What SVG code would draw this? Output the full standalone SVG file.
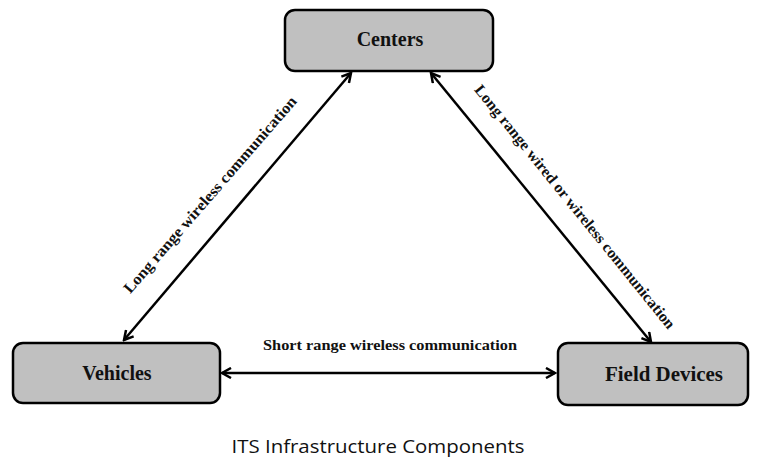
<svg xmlns="http://www.w3.org/2000/svg" width="758" height="459" viewBox="0 0 758 459">
<style>
.box{fill:#c0c0c0;stroke:#000;stroke-width:2.5}
.lbl{font-family:"Liberation Serif","Times New Roman",serif;font-weight:bold;font-size:20px;fill:#111;text-anchor:middle}
.edge{font-family:"Liberation Serif","Times New Roman",serif;font-weight:bold;font-size:15.5px;fill:#111;text-anchor:middle}
.conn{stroke:#000;stroke-width:2.5;fill:none;marker-start:url(#ah);marker-end:url(#ah)}
.cap{font-family:"Open Sans","Liberation Sans",sans-serif;font-size:18px;fill:#111;text-anchor:middle}
</style>
<defs>
<marker id="ah" viewBox="0 0 12 12" refX="10" refY="6" markerWidth="12" markerHeight="12" markerUnits="userSpaceOnUse" orient="auto-start-reverse">
<path d="M1,1 L10,6 L1,11" fill="none" stroke="#000" stroke-width="2.5"/>
</marker>
</defs>
<rect width="758" height="459" fill="#fff"/>
<g id="centers"><rect class="box" x="285" y="10" width="208" height="61" rx="10"/><text class="lbl" x="390" y="46">Centers</text></g>
<g id="vehicles"><rect class="box" x="13" y="343" width="207" height="60" rx="10"/><text class="lbl" x="117" y="380">Vehicles</text></g>
<g id="field-devices"><rect class="box" x="558" y="343" width="190" height="62" rx="10"/><text class="lbl" x="664" y="381" textLength="118" lengthAdjust="spacingAndGlyphs">Field Devices</text></g>
<g id="connectors">
<line class="conn" x1="124" y1="340" x2="351" y2="73"/>
<line class="conn" x1="431" y1="73" x2="651" y2="342"/>
<line class="conn" x1="222" y1="373" x2="555" y2="373"/>
</g>
<g id="labels">
<text class="edge" x="390" y="350" textLength="254" lengthAdjust="spacingAndGlyphs">Short range wireless communication</text>
<text class="edge" transform="translate(214,198) rotate(-49)" textLength="255" lengthAdjust="spacingAndGlyphs">Long range wireless communication</text>
<text class="edge" transform="translate(571,210) rotate(51)" textLength="309" lengthAdjust="spacingAndGlyphs">Long range wired or wireless communication</text>
<text class="cap" x="378" y="453" textLength="293" lengthAdjust="spacingAndGlyphs">ITS Infrastructure Components</text>
</g>
</svg>
